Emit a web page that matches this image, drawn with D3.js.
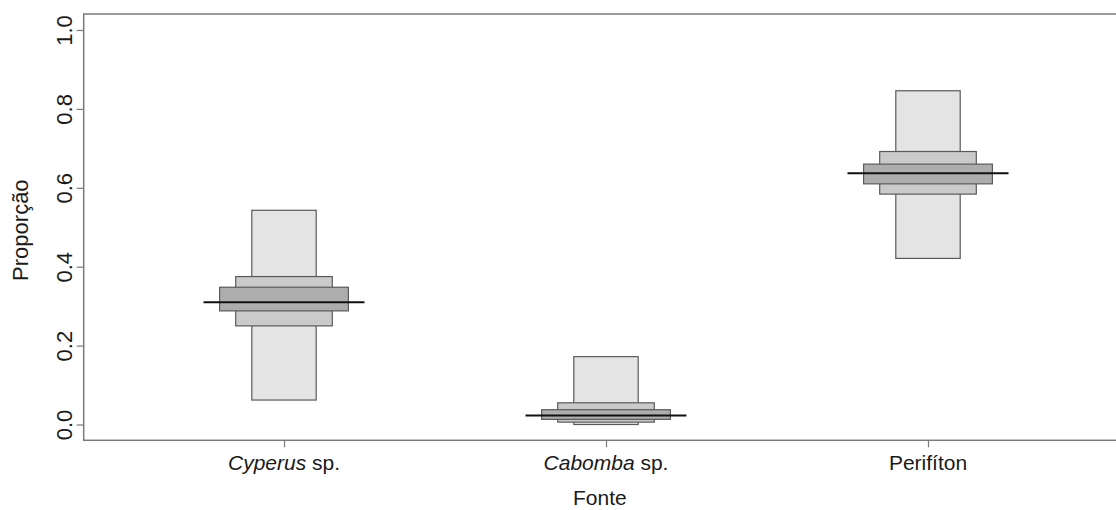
<!DOCTYPE html>
<html>
<head>
<meta charset="utf-8">
<script src="https://cdn.jsdelivr.net/npm/d3@7"></script>
<style>
  html, body { margin: 0; padding: 0; background: #fff; }
  svg { display: block; }
  text { font-family: "Liberation Sans", Arial, sans-serif; fill: #1a1a1a; }
</style>
</head>
<body>
<svg id="chart" width="1116" height="510"></svg>
<script>
// Posterior proportions of each food source (credible intervals)
const genus   = ["Cyperus", "Cabomba", ""];
const suffix  = [" sp.", " sp.", "Perifíton"];
const lo95 = [0.062, 0.000, 0.421];
const hi95 = [0.543, 0.172, 0.846];
const lo75 = [0.250, 0.006, 0.584];
const hi75 = [0.375, 0.055, 0.692];
const lo50 = [0.288, 0.013, 0.610];
const hi50 = [0.348, 0.0375, 0.660];
const mode = [0.310, 0.023, 0.637];
const yTicks = [0, 0.2, 0.4, 0.6, 0.8, 1.0];

const svg = d3.select("#chart");
const frame = { left: 83.7, top: 14, bottom: 440.3, right: 1135 };

const x = d3.scaleLinear().domain([1, 3]).range([284, 928]);
const y = d3.scaleLinear().domain([0, 1]).range([424.5, 30]);

const idx = d3.range(genus.length);

// interval bands: widest light band for 95%, then 75%, then 50%
const bands = [
  { lo: lo95, hi: hi95, half: 0.10, fill: "#e4e4e4" },
  { lo: lo75, hi: hi75, half: 0.15, fill: "#cacaca" },
  { lo: lo50, hi: hi50, half: 0.20, fill: "#adadad" }
];

bands.forEach(b => {
  svg.append("g").selectAll("rect").data(idx).join("rect")
    .attr("x", i => x(i + 1 - b.half))
    .attr("width", i => x(i + 1 + b.half) - x(i + 1 - b.half))
    .attr("y", i => y(b.hi[i]))
    .attr("height", i => y(b.lo[i]) - y(b.hi[i]))
    .attr("fill", b.fill)
    .attr("stroke", "#5a5a5a")
    .attr("stroke-width", 1.2);
});

// mode line
svg.append("g").selectAll("line").data(idx).join("line")
  .attr("x1", i => x(i + 1 - 0.25))
  .attr("x2", i => x(i + 1 + 0.25))
  .attr("y1", i => y(mode[i]))
  .attr("y2", i => y(mode[i]))
  .attr("stroke", "#111")
  .attr("stroke-width", 2);

// plot frame
svg.append("rect")
  .attr("x", frame.left).attr("y", frame.top)
  .attr("width", frame.right - frame.left)
  .attr("height", frame.bottom - frame.top)
  .attr("fill", "none")
  .attr("stroke", "#7a7a7a")
  .attr("stroke-width", 1.5);

// y axis
const yAxis = svg.append("g")
  .attr("transform", `translate(${frame.left},0)`)
  .call(d3.axisLeft(y).tickValues(yTicks).tickFormat(d3.format(".1f")).tickSize(7).tickPadding(0));
yAxis.select(".domain").remove();
yAxis.selectAll(".tick line").attr("stroke", "#7a7a7a").attr("stroke-width", 1.2);
yAxis.selectAll(".tick text")
  .attr("x", 0).attr("dy", null)
  .attr("transform", "translate(-11.5,0) rotate(-90)")
  .attr("text-anchor", "middle")
  .attr("font-size", 22)
  .attr("fill", "#1a1a1a");

// x axis
const xAxis = svg.append("g")
  .attr("transform", `translate(0,${frame.bottom})`)
  .call(d3.axisBottom(x).tickValues([1, 2, 3]).tickFormat("").tickSize(7));
xAxis.select(".domain").remove();
xAxis.selectAll(".tick line").attr("stroke", "#7a7a7a").attr("stroke-width", 1.2);

const lab = svg.append("g").selectAll("text").data(idx).join("text")
  .attr("x", i => x(i + 1))
  .attr("y", 470)
  .attr("text-anchor", "middle")
  .attr("font-size", 21);
lab.append("tspan").attr("font-style", "italic").text(i => genus[i]);
lab.append("tspan").text(i => suffix[i]);

// axis titles
svg.append("text")
  .attr("x", (frame.left + 1128) / 2 - 6)
  .attr("y", 505)
  .attr("text-anchor", "middle")
  .attr("font-size", 21)
  .text("Fonte");

svg.append("text")
  .attr("transform", `translate(28,${(frame.top + frame.bottom) / 2 + 3}) rotate(-90)`)
  .attr("text-anchor", "middle")
  .attr("font-size", 22)
  .text("Proporção");
</script>
</body>
</html>
